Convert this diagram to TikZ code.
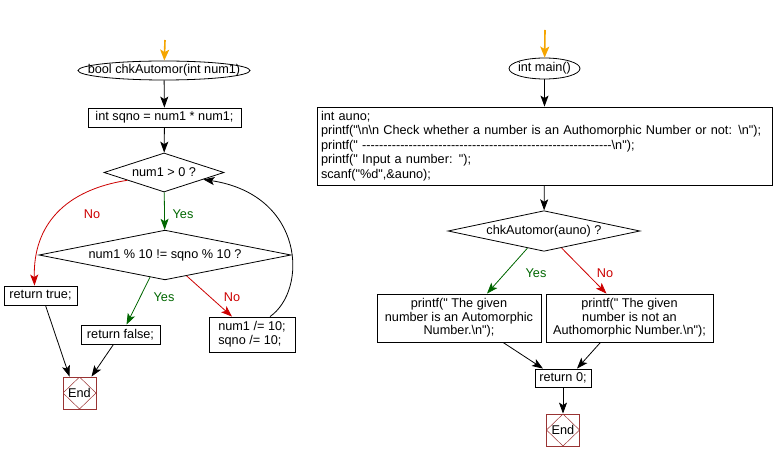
\documentclass[tikz,border=0pt]{standalone}
\usepackage{fontspec}
\setmainfont{Liberation Sans}[Ligatures=TeXOff]
\usetikzlibrary{shapes.geometric,arrows.meta}
\definecolor{ygreen}{RGB}{0,102,0}
\definecolor{nred}{RGB}{204,0,0}
\definecolor{sorange}{RGB}{245,165,0}
\definecolor{endred}{RGB}{153,51,51}
\begin{document}
\begin{tikzpicture}[x=1pt,y=-1pt,
  font=\fontsize{12.7}{14}\selectfont,
  term/.style={ellipse,draw,line width=0.8pt,inner sep=0pt},
  box/.style={rectangle,draw,line width=0.8pt,inner sep=3pt},
  dec/.style={diamond,draw,line width=0.8pt,inner sep=0pt,aspect=4},
  endnode/.style={rectangle,draw=endred,line width=0.8pt,minimum width=33pt,minimum height=32pt,inner sep=0pt,
    path picture={\draw[endred,line width=0.5pt] (path picture bounding box.north) -- (path picture bounding box.east) -- (path picture bounding box.south) -- (path picture bounding box.west) -- cycle;}},
  tip/.style={-{Stealth[length=11pt,width=8pt,inset=2.5pt]}},
  conn/.style={draw,line width=0.8pt,tip},
  yesc/.style={conn,draw=ygreen},
  noc/.style={conn,draw=nred},
  startc/.style={draw=sorange,line width=1.6pt,-{Stealth[length=11pt,width=9pt,inset=2.5pt]}},
  ylab/.style={text=ygreen,inner sep=0pt},
  nlab/.style={text=nred,inner sep=0pt}
]
\useasboundingbox (0,0) rectangle (774,462);

% ---------- left chart ----------
\coordinate (s1) at (165,40);
\node[term,minimum width=172pt,minimum height=19pt] (f1) at (164,70.5) {\makebox[0pt]{bool chkAutomor(int num1)}};
\node[box,minimum width=153pt,minimum height=19pt] (b1) at (164.5,117.5) {int sqno = num1 * num1;};
\node[dec,minimum width=120pt,minimum height=39pt] (d1) at (164,172.5) {num1 > 0 ?};
\node[dec,minimum width=252pt,minimum height=40pt] (d2) at (165,255) {num1 \% 10 != sqno \% 10 ?};
\node[box,minimum width=73pt,minimum height=19pt] (rt) at (40.5,295.5) {return true;};
\node[box,minimum width=79pt,minimum height=19pt] (rf) at (120.5,334.5) {return false;};
\node[box,align=left,minimum width=86pt,minimum height=35pt,font=\fontsize{12.7}{14}\selectfont] (nb) at (252,334.5) {num1 /= 10;\\sqno /= 10;};
\node[endnode] (e1) at (79.5,393) {End};

\node[ylab] (yl1) at (183,214) {Yes};
\node[nlab] (nl1) at (92,214) {No};
\node[ylab] (yl2) at (164,297) {Yes};
\node[nlab] (nl2) at (232,297) {No};

\draw[startc] (s1) -- (f1);
\draw[conn] (f1) -- (b1);
\draw[conn] (b1) -- (d1);
\draw[yesc] (d1) -- (d2);
\draw[noc] (d1.192) .. controls (65,190) and (33,225) .. ([xshift=-6pt]rt.north);
\draw[yesc] (d2.236) -- ([xshift=6pt]rf.north);
\draw[noc] (d2.316) -- ([xshift=-20pt]nb.north);
\draw[conn] ([xshift=18pt]nb.north) .. controls (308,290) and (305,195) .. (d1.350);
\draw[conn] ([xshift=5pt]rt.south) -- ([xshift=-10pt]e1.north);
\draw[conn] ([xshift=-7pt]rf.south) -- ([xshift=12pt]e1.north);

% ---------- right chart ----------
\coordinate (s2) at (545,30);
\node[term,minimum width=71pt,minimum height=21pt] (f2) at (544.5,68.5) {\makebox[0pt]{int main()}};
\node[box,align=left,text width=447pt,inner xsep=4pt,minimum height=78pt,font=\fontsize{12.7}{14.5}\selectfont] (mb) at (544.5,146) {int auno;\\
printf("\textbackslash n\textbackslash n Check whether a number is an Authomorphic Number or not: \textbackslash n");\\
printf(" -----------------------------------------------------------\textbackslash n");\\
printf(" Input a number: ");\\
scanf("\%d",\&auno);};
\node[dec,minimum width=192pt,minimum height=40pt] (d3) at (544,231) {chkAutomor(auno) ?};
\node[box,align=center,minimum width=164pt,minimum height=48pt,inner sep=1pt,font=\fontsize{12.7}{13.6}\selectfont] (p1) at (459,318) {printf(" The given\\number is an Automorphic\\Number.\textbackslash n");};
\node[box,align=center,minimum width=167pt,minimum height=48pt,inner sep=1pt,font=\fontsize{12.7}{13.6}\selectfont] (p2) at (629.5,318) {printf(" The given\\number is not an\\Authomorphic Number.\textbackslash n");};
\node[box,minimum width=56pt,minimum height=18pt] (r0) at (563,378) {return 0;};
\node[endnode] (e2) at (563,430) {End};

\node[ylab] (yl3) at (536,273) {Yes};
\node[nlab] (nl3) at (605,273) {No};

\draw[startc] (s2) -- (f2);
\draw[conn] (f2) -- (mb);
\draw[conn] (mb) -- (d3);
\draw[yesc] (d3.226) -- ([xshift=28pt]p1.north);
\draw[noc] (d3.316) -- ([xshift=-23pt]p2.north);
\draw[conn] ([xshift=44pt]p1.south) -- ([xshift=-20pt]r0.north);
\draw[conn] ([xshift=-29pt]p2.south) -- ([xshift=14pt]r0.north);
\draw[conn] (r0) -- (e2);
\end{tikzpicture}
\end{document}
